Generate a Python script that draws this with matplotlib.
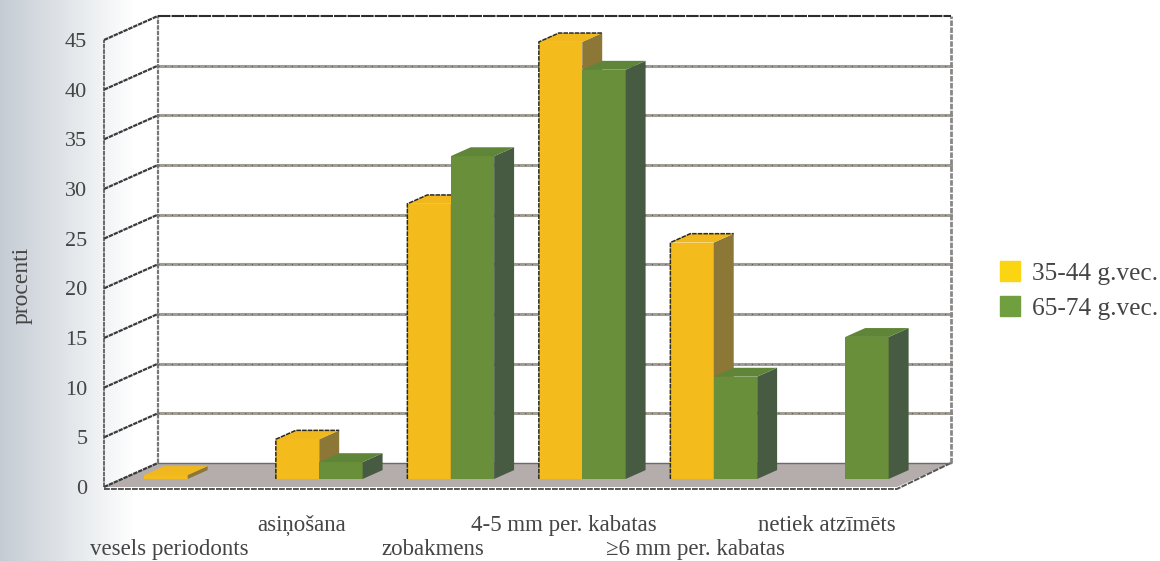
import numpy as np
import matplotlib
matplotlib.use('Agg')
import matplotlib.pyplot as plt
from matplotlib.patches import Patch

# *****************************************************************************

CATEGORIES = ['vesels periodonts', 'asiņošana', 'zobakmens',
              '4-5 mm per. kabatas', '≥6 mm per. kabatas', 'netiek atzīmēts']
SERIES_NAMES = ['35-44 g.vec.', '65-74 g.vec.']
VALS_YOUNG = [0.4, 4.0, 27.7, 44.0, 23.8, 0.0]
VALS_OLD = [0.0, 1.7, 32.5, 41.2, 10.3, 14.3]
YTICKS = [0, 5, 10, 15, 20, 25, 30, 35, 40, 45]
AXIS_LABEL = 'procenti'

FIG_W = 1160
FIG_H = 561

# Box depth in data units
DX = 0.41
DY = 2.42

TXT_COL = '#454545'

# *****************************************************************************


def draw_bar(axs01, xpos, wid, val, cols, outline=False):

    x0 = xpos + DX/3
    y0 = DY/3
    dx = DX*0.37
    dy = DY*0.37

    axs01.bar(x0, val, width=wid, bottom=y0, align='edge', color=cols[0],
              lw=0, zorder=5, clip_on=False)
    axs01.fill([x0+wid, x0+wid+dx, x0+wid+dx, x0+wid],
               [y0, y0+dy, y0+val+dy, y0+val], color=cols[2], lw=0, zorder=5,
               clip_on=False)
    axs01.fill([x0, x0+dx, x0+wid+dx, x0+wid],
               [y0+val, y0+val+dy, y0+val+dy, y0+val], color=cols[1], lw=0,
               zorder=5, clip_on=False)

    # Rough dark edge around the taller yellow bars
    if (outline):
        axs01.plot([x0, x0, x0+dx, x0+wid+dx], [y0, y0+val, y0+val+dy, y0+val+dy],
                   color='#2a2a22', lw=1.1, ls=(0, (3, 0.7)), zorder=5,
                   clip_on=False)

    return None

# *****************************************************************************


def make_fig():

    fig01 = plt.figure(figsize=(FIG_W/100, FIG_H/100), dpi=100)
    plt.rcParams['font.family'] = ['Liberation Serif', 'DejaVu Serif']

    # Paper shading along the left side
    axs00 = fig01.add_axes([0, 0, 1, 1], zorder=0)
    ramp = np.linspace(0, 1, 135).reshape(1, -1, 1)
    shade = np.array([0.77, 0.80, 0.83]).reshape(1, 1, 3)*(1-ramp) + ramp
    axs00.imshow(shade, aspect='auto', extent=[0, 135, 0, 1])
    axs00.set_xlim(0, FIG_W)
    axs00.set_ylim(0, 1)
    axs00.axis('off')

    # Main axes sit on the front plane of the box
    left = 104/FIG_W
    bot = 1-487/FIG_H
    wid = 793/FIG_W
    hgt = 447/FIG_H
    axs01 = fig01.add_axes([left, bot, wid, hgt], zorder=1)
    axs01.patch.set_alpha(0)
    x_l = -0.5
    x_r = 5.53
    axs01.set_xlim(x_l, x_r)
    axs01.set_ylim(0, 45)
    for spine in axs01.spines.values():
        spine.set_visible(False)

    # Floor and back wall
    axs01.fill([x_l, x_l+DX, x_r+DX, x_r], [0, DY, DY, 0], color='#b5adab',
               lw=0, zorder=1, clip_on=False)
    axs01.plot([x_l, x_r, x_r+DX], [-0.2, -0.2, DY], color='#555555', lw=1.4,
               ls=(0, (3, 0.6)), zorder=2, clip_on=False)
    axs01.plot([x_l+DX, x_r+DX], [DY, DY], color='#6a6a6a', lw=1.0, zorder=2,
               clip_on=False)

    # Grid lines across the back wall and the left wall
    for ytk in YTICKS[1:-1]:
        axs01.plot([x_l+DX, x_r+DX], [ytk+DY, ytk+DY], color='#a09e94', lw=2.2,
                   zorder=2, clip_on=False)
        axs01.plot([x_l+DX, x_r+DX], [ytk+DY, ytk+DY], color='#555555', lw=0.8,
                   ls=(0, (1, 5)), zorder=3, clip_on=False)
    for ytk in YTICKS:
        axs01.plot([x_l, x_l+DX], [ytk, ytk+DY], color='#3a3a3a', lw=1.6,
                   ls=(0, (2, 0.4)), zorder=3, clip_on=False)

    axs01.plot([x_l, x_l], [0, 45], color='#444444', lw=1.1, ls=(0, (3, 0.5)),
               zorder=3, clip_on=False)
    axs01.plot([x_l+DX, x_l+DX], [DY, 45+DY], color='#777777', lw=1.6,
               ls=(0, (2, 0.5)), zorder=3, clip_on=False)
    axs01.plot([x_r+DX, x_r+DX], [DY, 45+DY], color='#8a8686', lw=2.0,
               ls=(0, (2, 0.5)), zorder=3, clip_on=False)
    axs01.plot([x_l+DX, x_r+DX], [45+DY, 45+DY], color='#2e2e2e', lw=1.5,
               ls=(0, (6, 0.5)), zorder=3, clip_on=False)

    # Bars
    bar_w = 0.33
    cols_y = ['#f3bb1b', '#f0b81c', '#8c7737']
    cols_g = ['#6a8f3a', '#5f8638', '#475b43']
    for k1 in range(len(CATEGORIES)):
        if (VALS_YOUNG[k1] > 0):
            draw_bar(axs01, k1-bar_w, bar_w, VALS_YOUNG[k1], cols_y,
                     outline=(VALS_YOUNG[k1] > 1))
        if (VALS_OLD[k1] > 0):
            draw_bar(axs01, k1, bar_w, VALS_OLD[k1], cols_g)

    # Ticks and labels
    axs01.set_yticks(YTICKS)
    axs01.tick_params(axis='y', length=0, pad=12, labelsize=16,
                      labelcolor=TXT_COL)
    axs01.set_ylabel(AXIS_LABEL, fontsize=17, color=TXT_COL)
    axs01.yaxis.set_label_coords(-71/793, 0.452)

    axs01.set_xticks(range(len(CATEGORIES)))
    axs01.set_xticklabels(CATEGORIES, fontsize=16.5, color=TXT_COL)
    axs01.tick_params(axis='x', length=0)
    for k1, tick in enumerate(axs01.xaxis.get_major_ticks()):
        tick.set_pad(20 if k1 % 2 else 37.5)

    handles = [Patch(color='#fbd512'), Patch(color='#6f9f3e')]
    axs01.legend(handles, SERIES_NAMES, loc='center left',
                 bbox_to_anchor=(1.13, 0.44), frameon=False, fontsize=18.3,
                 labelcolor=TXT_COL, handlelength=0.8, handleheight=0.85,
                 handletextpad=0.45, labelspacing=0.42, borderpad=0,
                 borderaxespad=0)

    plt.savefig('out.png', dpi=100)
    plt.close()

    return None

# *****************************************************************************


if (__name__ == "__main__"):

    make_fig()

# *****************************************************************************
